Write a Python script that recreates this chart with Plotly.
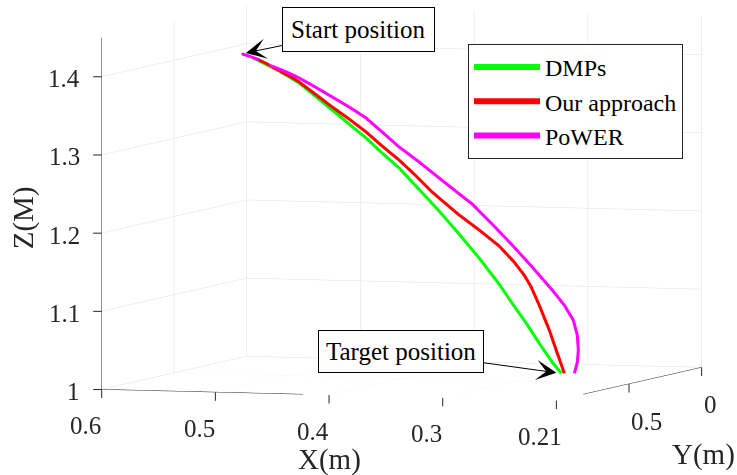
import plotly.graph_objects as go

# Trajectories (metres): DMPs, our approach, PoWER
dmp_x = [0.5405, 0.5326, 0.5256, 0.5167, 0.5079, 0.4991, 0.4903, 0.4762, 0.4612, 0.4463,
         0.4313, 0.4172, 0.4022, 0.3899, 0.3775, 0.3670, 0.3493, 0.3317, 0.3141, 0.3009,
         0.2903, 0.2789, 0.2674, 0.2595]
dmp_y = [0.5] * 24
dmp_z = [1.4104, 1.4069, 1.4020, 1.3959, 1.3898, 1.3824, 1.3750, 1.3589, 1.3414, 1.3240,
         1.3066, 1.2879, 1.2692, 1.2504, 1.2316, 1.2153, 1.1864, 1.1563, 1.1235, 1.0958,
         1.0744, 1.0491, 1.0252, 1.0114]

our_x = [0.5405, 0.5326, 0.5256, 0.5167, 0.5079, 0.4991, 0.4903, 0.4762, 0.4612, 0.4463,
         0.4313, 0.4172, 0.4022, 0.3872, 0.3731, 0.3608, 0.3493, 0.3317, 0.3141, 0.3009,
         0.2921, 0.2859, 0.2789, 0.2700, 0.2630, 0.2568]
our_y = [0.5] * 26
our_z = [1.4104, 1.4069, 1.4033, 1.3972, 1.3898, 1.3837, 1.3763, 1.3614, 1.3453, 1.3304,
         1.3143, 1.2968, 1.2794, 1.2594, 1.2394, 1.2245, 1.2108, 1.1922, 1.1723, 1.1522,
         1.1359, 1.1207, 1.0979, 1.0661, 1.0369, 1.0115]

power_x = [0.5405, 0.5326, 0.5256, 0.5150, 0.5035, 0.4903, 0.4762, 0.4612, 0.4463, 0.4313,
           0.4172, 0.4022, 0.3846, 0.3670, 0.3537, 0.3379, 0.3203, 0.3026, 0.2850, 0.2674,
           0.2568, 0.2489, 0.2454, 0.2445, 0.2454, 0.2480]
power_y = [0.5] * 26
power_z = [1.4104, 1.4069, 1.4033, 1.3960, 1.3899, 1.3814, 1.3704, 1.3581, 1.3458, 1.3322,
           1.3148, 1.2961, 1.2775, 1.2576, 1.2427, 1.2253, 1.2002, 1.1739, 1.1464, 1.1175,
           1.0986, 1.0797, 1.0606, 1.0414, 1.0260, 1.0118]

x_range = [0.2, 0.6]
y_range = [0.0, 1.0]
z_range = [1.0, 1.45]
x_ticks = [0.2, 0.3, 0.4, 0.5, 0.6]
x_tick_text = ["0.21", "0.3", "0.4", "0.5", "0.6"]
y_ticks = [0.0, 0.5]
y_tick_text = ["0", "0.5"]
z_ticks = [1.0, 1.1, 1.2, 1.3, 1.4]
z_tick_text = ["1", "1.1", "1.2", "1.3", "1.4"]

FONT = "Times New Roman, Liberation Serif, serif"
AX_COLOR = "#262626"
GRID = "rgb(223,223,223)"
TICK_FONT = dict(family=FONT, size=25, color=AX_COLOR)
TITLE_FONT = dict(family=FONT, size=29, color=AX_COLOR)
BOX_FONT = dict(family=FONT, size=25, color="black")

fig = go.Figure()
for name, xs, ys, zs, col in [
    ("DMPs", dmp_x, dmp_y, dmp_z, "#00ff00"),
    ("Our approach", our_x, our_y, our_z, "#ff0000"),
    ("PoWER", power_x, power_y, power_z, "#ff00ff"),
]:
    fig.add_trace(go.Scatter3d(x=xs, y=ys, z=zs, mode="lines", name=name,
                               line=dict(color=col, width=6)))

def axis(rng, tv):
    return dict(
        title=dict(text=""), range=rng, tickvals=tv, showticklabels=False,
        showbackground=False, showgrid=True, gridcolor=GRID, gridwidth=1,
        showline=True, linecolor=AX_COLOR, linewidth=1, ticks="",
        zeroline=False, showspikes=False, autorange=False,
    )

def tick_mark(x, y, z, dx, dy):
    # short tick stroke drawn from the axis point outward by (dx, dy) pixels
    return dict(x=x, y=y, z=z, text="", showarrow=True, arrowhead=0,
                arrowwidth=1, arrowcolor=AX_COLOR, ax=dx, ay=dy,
                standoff=0, startstandoff=0)

# Front edges of the box carry the ticks: x along y=1,z=1; y along x=0.2,z=1;
# z along x=0.6,y=1.
x0, x1 = x_range
y0, y1 = y_range
z0, z1 = z_range
labels = []
for v, t in zip(x_ticks, x_tick_text):
    labels.append(tick_mark(v, y1, z0, 0, 10))
    labels.append(dict(x=v, y=y1, z=z0, text=t, showarrow=False, font=TICK_FONT,
                       xanchor="center", yanchor="middle", xshift=-16, yshift=-36))
for v, t in zip(y_ticks, y_tick_text):
    labels.append(tick_mark(x0, v, z0, 0, 10))
    labels.append(dict(x=x0, y=v, z=z0, text=t, showarrow=False, font=TICK_FONT,
                       xanchor="left", yanchor="middle", xshift=0, yshift=-37))
for v, t in zip(z_ticks, z_tick_text):
    labels.append(tick_mark(x1, y1, v, -10, 0))
    labels.append(dict(x=x1, y=y1, z=v, text=t, showarrow=False, font=TICK_FONT,
                       xanchor="right", yanchor="middle", xshift=-20, yshift=-2))
labels += [
    dict(x=(x0 + x1) / 2, y=y1, z=z0, text="X(m)", showarrow=False, font=TITLE_FONT,
         xanchor="center", yanchor="middle", yshift=-64),
    dict(x=x0, y=(y0 + y1) / 2, z=z0, text="Y(m)", showarrow=False, font=TITLE_FONT,
         xanchor="center", yanchor="middle", xshift=74, yshift=-70),
    dict(x=x1, y=y1, z=(z0 + z1) / 2, text="Z(M)", showarrow=False, font=TITLE_FONT,
         textangle=-90, xanchor="center", yanchor="middle", xshift=-78, yshift=-4),
    dict(x=our_x[0], y=our_y[0], z=our_z[0], text="Start position",
         showarrow=True, arrowhead=3, arrowsize=3.4, arrowwidth=1,
         arrowcolor="black", ax=117, ay=-24, standoff=4,
         bgcolor="white", bordercolor="black", borderwidth=1, borderpad=8,
         font=BOX_FONT),
    dict(x=dmp_x[-1], y=dmp_y[-1], z=dmp_z[-1], text="Target position",
         showarrow=True, arrowhead=3, arrowsize=3.4, arrowwidth=1,
         arrowcolor="black", ax=-160, ay=-22, standoff=5,
         bgcolor="white", bordercolor="black", borderwidth=1, borderpad=7,
         font=BOX_FONT),
]

zoom = 2.363
fig.update_layout(
    width=737, height=475,
    margin=dict(l=0, r=0, t=0, b=0),
    paper_bgcolor="white",
    font=dict(family=FONT, color="black"),
    showlegend=True,
    legend=dict(x=0.635, y=1 - 44 / 475, xanchor="left", yanchor="top",
                bgcolor="white", bordercolor="#262626", borderwidth=1,
                font=dict(family=FONT, size=24, color="black"),
                itemwidth=66),
    scene=dict(
        domain=dict(x=[0.09, 1.0], y=[0.147, 1.0]),
        bgcolor="white",
        xaxis=axis(x_range, x_ticks),
        yaxis=axis(y_range, y_ticks),
        zaxis=axis(z_range, z_ticks),
        aspectmode="manual",
        aspectratio=dict(x=1.0 * zoom, y=0.979 * zoom, z=0.737 * zoom),
        camera=dict(
            projection=dict(type="orthographic"),
            up=dict(x=0, y=0, z=1),
            center=dict(x=0, y=0, z=0),
            eye=dict(x=-0.3094, y=0.9482, z=0.0743),
        ),
        annotations=labels,
    ),
)

fig.write_html("out.html")
